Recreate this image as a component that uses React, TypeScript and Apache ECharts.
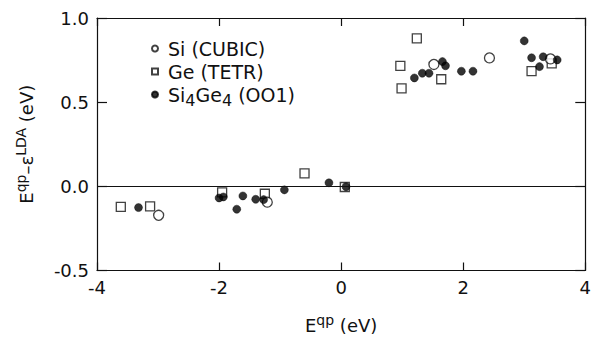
import React, { useEffect, useRef } from "react";
import * as echarts from "echarts";

const siCubic: [number, number][] = [
  [-2.99, -0.172], [-1.21, -0.094], [1.52, 0.724], [2.43, 0.763], [3.43, 0.757],
];
const geTetr: [number, number][] = [
  [-3.61, -0.122], [-3.13, -0.119], [-1.95, -0.036], [-1.25, -0.044], [-0.6, 0.077],
  [0.06, -0.004], [0.97, 0.716], [0.99, 0.582], [1.24, 0.879], [1.64, 0.636],
  [3.12, 0.684], [3.45, 0.73],
];
const siGe: [number, number][] = [
  [-3.32, -0.126], [-2.0, -0.069], [-1.93, -0.063], [-1.71, -0.136], [-1.61, -0.057],
  [-1.4, -0.077], [-1.27, -0.079], [-0.93, -0.021], [-0.2, 0.021], [0.08, -0.002],
  [1.2, 0.644], [1.33, 0.672], [1.44, 0.672], [1.66, 0.741], [1.71, 0.716],
  [1.97, 0.684], [2.16, 0.684], [3.0, 0.864], [3.12, 0.764], [3.25, 0.711],
  [3.31, 0.77], [3.54, 0.751],
];
const xTicks = [-4, -2, 0, 2, 4];
const yTicks = [-0.5, 0, 0.5, 1.0];

const FONT = "DejaVu Sans";
const INK = "#111";

export default function App() {
  const ref = useRef<HTMLDivElement>(null);
  useEffect(() => {
    if (!ref.current) return;
    const chart = echarts.init(ref.current, undefined, { renderer: "svg" });
    const axisCommon = {
      axisLine: { show: true, onZero: false, lineStyle: { color: INK, width: 1.2 } },
      axisTick: { show: true, inside: true, length: 8, lineStyle: { color: INK, width: 1.2 } },
      splitLine: { show: false },
    };
    const rich = {
      a: { fontFamily: FONT, fontSize: 18, color: INK },
      b: { fontFamily: FONT, fontSize: 14, color: INK, padding: [0, 0, 11, 0] },
    };
    chart.setOption({
      animation: false,
      backgroundColor: "#fff",
      grid: { left: 97, right: 5, top: 18, bottom: 60 },
      xAxis: [
        {
          type: "value", min: -4, max: 4, interval: 2, position: "bottom",
          ...axisCommon,
          axisLabel: {
            fontFamily: FONT, fontSize: 18, color: INK, margin: 8,
            formatter: (v: number) => (xTicks.includes(v) ? String(v) : ""),
          },
          name: "{a|E}{b|qp}{a| (eV)}", nameLocation: "middle", nameGap: 42,
          nameTextStyle: { rich },
        },
        {
          type: "value", min: -4, max: 4, interval: 2, position: "top",
          ...axisCommon, axisLabel: { show: false },
        },
      ],
      yAxis: [
        {
          type: "value", min: -0.5, max: 1.0, interval: 0.5, position: "left",
          ...axisCommon,
          axisTick: { show: true, inside: true, length: 10, lineStyle: { color: INK, width: 1.2 } },
          axisLabel: {
            fontFamily: FONT, fontSize: 18, color: INK, margin: 8,
            formatter: (v: number) => (yTicks.includes(v) ? v.toFixed(1) : ""),
          },
          name: "{a|E}{b|qp}{a|–ε}{b|LDA}{a| (eV)}", nameLocation: "middle", nameGap: 58,
          nameRotate: 90,
          nameTextStyle: { rich },
        },
        {
          type: "value", min: -0.5, max: 1.0, interval: 0.5, position: "right",
          ...axisCommon,
          axisTick: { show: true, inside: true, length: 10, lineStyle: { color: INK, width: 1.2 } },
          axisLabel: { show: false },
        },
      ],
      legend: {
        orient: "vertical", left: 146, top: 34, itemWidth: 6, itemHeight: 6, itemGap: 4,
        data: [
          { name: "Si (CUBIC)" },
          { name: "Ge (TETR)" },
          { name: "Si4Ge4 (001)" },
        ],
        formatter: (name: string) =>
          name === "Si4Ge4 (001)" ? "{a|Si}{s|4}{a|Ge}{s|4}{a| (OO1)}" : "{a|" + name + "}",
        textStyle: {
          padding: [0, 0, 0, 5],
          rich: {
            a: { fontFamily: FONT, fontSize: 19, color: INK },
            s: { fontFamily: FONT, fontSize: 16, color: INK, padding: [11, 0, 0, 0] },
          },
        },
      },
      series: [
        {
          name: "Si (CUBIC)", type: "scatter", data: siCubic, symbol: "circle", symbolSize: 10,
          itemStyle: { color: "#fff", borderColor: INK, borderWidth: 1.3 },
          z: 3,
        },
        {
          name: "Ge (TETR)", type: "scatter", data: geTetr, symbol: "rect", symbolSize: 9,
          itemStyle: { color: "#fff", borderColor: INK, borderWidth: 1.3 },
          z: 2,
          markLine: {
            silent: true, symbol: "none", label: { show: false },
            lineStyle: { color: INK, width: 1.2, type: "solid" },
            data: [{ yAxis: 0 }],
          },
        },
        {
          name: "Si4Ge4 (001)", type: "scatter", data: siGe, symbol: "circle", symbolSize: 8,
          itemStyle: { color: "#000", borderColor: "#000", borderWidth: 0.5 },
          z: 4,
        },
      ],
    });
    return () => chart.dispose();
  }, []);
  return (
    <div
      ref={ref}
      style={{ position: "absolute", left: 0, top: 0, width: 594, height: 339 }}
    />
  );
}
